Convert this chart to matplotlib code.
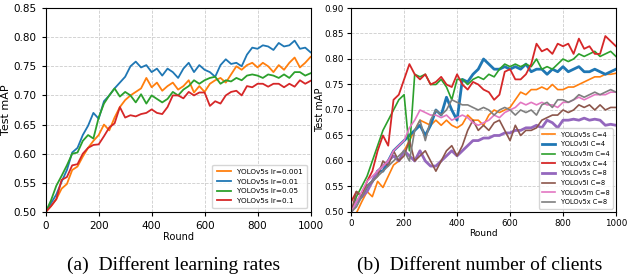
import numpy as np
import matplotlib
matplotlib.use("Agg")
import matplotlib.pyplot as plt

# rounds sampled every 20
rounds = np.arange(0, 1001, 20)

# (a) learning rates
lr_labels = ["YOLOv5s lr=0.001", "YOLOv5s lr=0.01", "YOLOv5s lr=0.05", "YOLOv5s lr=0.1"]
lr_0001 = [0.500, 0.510, 0.522, 0.540, 0.548, 0.572, 0.578, 0.595, 0.610, 0.622,
           0.632, 0.650, 0.640, 0.662, 0.680, 0.692, 0.700, 0.706, 0.712, 0.730,
           0.714, 0.722, 0.708, 0.716, 0.722, 0.710, 0.716, 0.726, 0.705, 0.716,
           0.706, 0.720, 0.726, 0.730, 0.722, 0.736, 0.750, 0.744, 0.752, 0.756,
           0.748, 0.756, 0.750, 0.740, 0.752, 0.744, 0.756, 0.765, 0.748, 0.756,
           0.766]
lr_001 = [0.500, 0.515, 0.530, 0.552, 0.572, 0.602, 0.610, 0.632, 0.648, 0.670,
          0.660, 0.690, 0.700, 0.712, 0.722, 0.732, 0.750, 0.758, 0.748, 0.752,
          0.740, 0.746, 0.734, 0.746, 0.740, 0.730, 0.746, 0.756, 0.740, 0.752,
          0.744, 0.740, 0.732, 0.752, 0.762, 0.754, 0.756, 0.750, 0.770, 0.782,
          0.780, 0.786, 0.784, 0.778, 0.790, 0.784, 0.786, 0.794, 0.780, 0.782,
          0.774]
lr_005 = [0.500, 0.520, 0.545, 0.562, 0.580, 0.600, 0.602, 0.622, 0.632, 0.626,
          0.662, 0.686, 0.700, 0.712, 0.698, 0.706, 0.700, 0.688, 0.702, 0.686,
          0.700, 0.694, 0.688, 0.694, 0.706, 0.700, 0.710, 0.716, 0.726, 0.720,
          0.726, 0.730, 0.732, 0.720, 0.726, 0.724, 0.730, 0.726, 0.734, 0.736,
          0.734, 0.730, 0.736, 0.734, 0.730, 0.736, 0.730, 0.740, 0.740, 0.734,
          0.738]
lr_01 = [0.500, 0.510, 0.522, 0.555, 0.560, 0.580, 0.582, 0.600, 0.610, 0.615,
         0.616, 0.630, 0.645, 0.652, 0.680, 0.662, 0.666, 0.664, 0.668, 0.670,
         0.676, 0.670, 0.668, 0.680, 0.700, 0.700, 0.695, 0.706, 0.700, 0.705,
         0.705, 0.682, 0.690, 0.686, 0.700, 0.706, 0.708, 0.700, 0.716, 0.714,
         0.720, 0.720, 0.715, 0.720, 0.720, 0.714, 0.720, 0.715, 0.726, 0.720,
         0.725]

# (b) number of clients
cl_labels = ["YOLOv5s C=4", "YOLOv5l C=4", "YOLOv5m C=4", "YOLOv5x C=4",
             "YOLOv5s C=8", "YOLOv5l C=8", "YOLOv5m C=8", "YOLOv5x C=8"]
s_c4 = [0.495, 0.498, 0.520, 0.540, 0.530, 0.560, 0.548, 0.570, 0.592, 0.600,
        0.620, 0.640, 0.660, 0.680, 0.675, 0.670, 0.680, 0.670, 0.680, 0.670,
        0.665, 0.672, 0.690, 0.680, 0.680, 0.670, 0.690, 0.700, 0.695, 0.700,
        0.705, 0.720, 0.735, 0.730, 0.740, 0.740, 0.745, 0.740, 0.750, 0.740,
        0.740, 0.745, 0.745, 0.750, 0.755, 0.760, 0.765, 0.765, 0.770, 0.770,
        0.772]
l_c4 = [0.500, 0.520, 0.530, 0.550, 0.560, 0.580, 0.580, 0.600, 0.620, 0.630,
        0.640, 0.650, 0.660, 0.670, 0.650, 0.670, 0.700, 0.690, 0.725, 0.700,
        0.680, 0.760, 0.755, 0.770, 0.780, 0.800, 0.790, 0.780, 0.780, 0.785,
        0.780, 0.785, 0.780, 0.790, 0.775, 0.780, 0.780, 0.770, 0.780, 0.775,
        0.785, 0.775, 0.780, 0.785, 0.775, 0.775, 0.780, 0.775, 0.770, 0.775,
        0.780]
m_c4 = [0.500, 0.530, 0.550, 0.570, 0.600, 0.630, 0.660, 0.680, 0.700, 0.720,
        0.730, 0.620, 0.770, 0.765, 0.770, 0.750, 0.750, 0.760, 0.745, 0.720,
        0.760, 0.760, 0.750, 0.760, 0.765, 0.760, 0.770, 0.765, 0.780, 0.790,
        0.785, 0.790, 0.785, 0.790, 0.785, 0.800, 0.780, 0.785, 0.780, 0.790,
        0.800, 0.795, 0.800, 0.810, 0.805, 0.810, 0.815, 0.805, 0.810, 0.815,
        0.805]
x_c4 = [0.520, 0.540, 0.530, 0.560, 0.580, 0.620, 0.650, 0.630, 0.720, 0.730,
        0.760, 0.790, 0.770, 0.760, 0.770, 0.750, 0.755, 0.765, 0.750, 0.745,
        0.770, 0.750, 0.740, 0.755, 0.750, 0.740, 0.735, 0.720, 0.730, 0.775,
        0.780, 0.760, 0.760, 0.770, 0.790, 0.830, 0.815, 0.820, 0.810, 0.830,
        0.825, 0.830, 0.810, 0.840, 0.820, 0.825, 0.810, 0.810, 0.845, 0.835,
        0.825]
s_c8 = [0.500, 0.520, 0.530, 0.540, 0.560, 0.580, 0.590, 0.600, 0.610, 0.600,
        0.620, 0.610, 0.600, 0.620, 0.600, 0.590, 0.590, 0.600, 0.610, 0.620,
        0.610, 0.620, 0.630, 0.640, 0.640, 0.645, 0.645, 0.650, 0.650, 0.655,
        0.655, 0.660, 0.660, 0.665, 0.665, 0.670, 0.665, 0.680, 0.675, 0.665,
        0.680, 0.680, 0.682, 0.680, 0.684, 0.680, 0.682, 0.680, 0.670, 0.672,
        0.670]
l_c8 = [0.500, 0.540, 0.530, 0.550, 0.560, 0.570, 0.600, 0.590, 0.620, 0.600,
        0.610, 0.640, 0.600, 0.610, 0.620, 0.600, 0.580, 0.600, 0.620, 0.630,
        0.610, 0.630, 0.660, 0.680, 0.660, 0.670, 0.660, 0.675, 0.680, 0.660,
        0.640, 0.670, 0.650, 0.660, 0.660, 0.665, 0.680, 0.685, 0.690, 0.690,
        0.700, 0.695, 0.700, 0.710, 0.705, 0.710, 0.700, 0.710, 0.700, 0.705,
        0.705]
m_c8 = [0.500, 0.520, 0.540, 0.560, 0.570, 0.580, 0.590, 0.600, 0.620, 0.630,
        0.640, 0.665, 0.680, 0.700, 0.695, 0.690, 0.690, 0.685, 0.690, 0.680,
        0.685, 0.690, 0.685, 0.675, 0.670, 0.675, 0.680, 0.690, 0.685, 0.695,
        0.700, 0.705, 0.715, 0.710, 0.715, 0.710, 0.715, 0.710, 0.710, 0.705,
        0.715, 0.715, 0.720, 0.725, 0.720, 0.725, 0.730, 0.730, 0.730, 0.735,
        0.735]
x_c8 = [0.500, 0.510, 0.530, 0.550, 0.560, 0.570, 0.580, 0.590, 0.600, 0.610,
        0.620, 0.600, 0.660, 0.680, 0.640, 0.680, 0.700, 0.690, 0.700, 0.720,
        0.715, 0.710, 0.710, 0.705, 0.700, 0.705, 0.700, 0.690, 0.700, 0.705,
        0.700, 0.690, 0.700, 0.695, 0.700, 0.690, 0.710, 0.715, 0.705, 0.720,
        0.720, 0.715, 0.720, 0.730, 0.725, 0.730, 0.735, 0.730, 0.735, 0.740,
        0.735]

plt.rcParams["font.family"] = "DejaVu Sans"
fig = plt.figure(figsize=(6.35, 2.76), dpi=100)

# (a)
ax1 = fig.add_axes([0.072, 0.232, 0.417, 0.739])
for vals, lab, c in zip([lr_0001, lr_001, lr_005, lr_01], lr_labels,
                        ["#ff7f0e", "#1f77b4", "#2ca02c", "#d62728"]):
    ax1.plot(rounds, vals, color=c, lw=1.3, label=lab)
ax1.set_xlim(0, 1000)
ax1.set_ylim(0.50, 0.85)
ax1.set_yticks(np.arange(0.50, 0.851, 0.05))
ax1.set_xticks(range(0, 1001, 200))
ax1.grid(True, ls="--", color="#cccccc", lw=0.6)
ax1.tick_params(labelsize=7.5, length=3)
ax1.set_xlabel("Round", fontsize=7, labelpad=1)
ax1.set_ylabel("Test mAP", fontsize=8, labelpad=2)
ax1.legend(loc="lower right", fontsize=5.2, handlelength=2, borderpad=0.6,
           labelspacing=0.5)

# (b)
ax2 = fig.add_axes([0.553, 0.232, 0.417, 0.739])
series_b = [s_c4, l_c4, m_c4, x_c4, s_c8, l_c8, m_c8, x_c8]
colors_b = ["#ff7f0e", "#1f77b4", "#2ca02c", "#d62728",
            "#9467bd", "#8c564b", "#e377c2", "#7f7f7f"]
widths_b = [1.2, 2.0, 1.2, 1.3, 2.0, 1.2, 1.2, 1.2]
for vals, lab, c, w in zip(series_b, cl_labels, colors_b, widths_b):
    ax2.plot(rounds, vals, color=c, lw=w, label=lab)
ax2.set_xlim(0, 1000)
ax2.set_ylim(0.50, 0.90)
ax2.set_yticks(np.arange(0.50, 0.901, 0.05))
ax2.set_xticks(range(0, 1001, 200))
ax2.grid(True, ls="--", color="#cccccc", lw=0.6)
ax2.tick_params(labelsize=6.3, length=3, pad=2)
ax2.set_xlabel("Round", fontsize=6.5, labelpad=1)
ax2.set_ylabel("Test mAP", fontsize=7, labelpad=0)
ax2.legend(loc="lower right", fontsize=4.8, handlelength=2, borderpad=0.5,
           labelspacing=0.55)

fig.text(0.273, 0.022, "(a)  Different learning rates", ha="center",
         va="baseline", fontsize=14, family="Liberation Serif")
fig.text(0.755, 0.022, "(b)  Different number of clients", ha="center",
         va="baseline", fontsize=14, family="Liberation Serif")

fig.savefig("out.png", dpi=100)
